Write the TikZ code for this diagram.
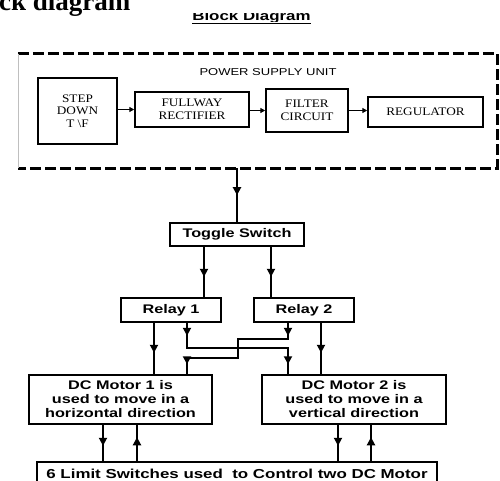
\documentclass[tikz,border=0pt]{standalone}
\usepackage{fontspec}
\usetikzlibrary{arrows.meta,decorations.markings,calc}
\setmainfont{Liberation Serif}
\newfontfamily\sansw{Liberation Sans}[FakeStretch=1.3]
\newfontfamily\serifw{Liberation Serif}[FakeStretch=1.15]
\begin{document}
\begin{tikzpicture}[x=1pt,y=-1pt,
  box/.style={draw, line width=1.5pt, inner sep=0pt, align=center},
  wbox/.style={box, font=\sansw\bfseries\fontsize{12.5}{14}\selectfont},
  tbox/.style={box, font=\serifw\fontsize{11.5}{12.5}\selectfont},
  conn/.style={line width=2pt},
  pconn/.style={line width=1.3pt, -{Triangle[width=5pt,length=5pt]}},
  tipmark/.style={postaction={decorate,decoration={markings,mark=at position #1 with {\arrow{Triangle[width=8pt,length=8pt]}}}}},
  dashbox/.style={line width=3pt, dash pattern=on 11pt off 4pt}
]
\useasboundingbox (0,0) rectangle (500,481);
\clip (0,0) rectangle (500,481);

% titles
\node[font=\bfseries\fontsize{27}{30}\selectfont, anchor=base west, inner sep=0pt] (ttl) at (-1,10.5) {ck diagram};
\begin{scope}
  \clip (180,14) rectangle (330,21.8);
  \node[font=\sansw\bfseries\fontsize{13}{15}\selectfont, anchor=base, inner sep=0pt] (bd) at (251.5,20.8) {Block Diagram};
\end{scope}
\draw[line width=1.3pt] ([yshift=-2.4pt]bd.base west) -- ([yshift=-2.4pt]bd.base east);

% power supply unit
\node[inner sep=0pt, minimum width=479pt, minimum height=114pt] (psu) at (257.5,111) {};
\draw[dashbox] (psu.north west) -- (psu.north east) -- (psu.south east) -- (psu.south west);
\draw[line width=0.4pt, black!25] (psu.south west) -- (psu.north west);
\node[font=\sansw\fontsize{10}{12}\selectfont, inner sep=0pt] (psul) at (268,72) {POWER SUPPLY UNIT};

\node[tbox, minimum width=79pt, minimum height=66pt] (step) at (77.5,111) {STEP\\DOWN\\T \textbackslash F};
\node[tbox, minimum width=114pt, minimum height=35pt] (rect) at (192,109.5) {FULLWAY\\RECTIFIER};
\node[tbox, minimum width=82pt, minimum height=43pt] (filt) at (307,110.5) {FILTER\\CIRCUIT};
\node[tbox, minimum width=115pt, minimum height=30pt] (reg) at (425.5,112) {REGULATOR};

\draw[pconn] (step.east |- rect.west) -- (rect.west);
\draw[pconn] (rect.east |- filt.west) -- (filt.west);
\draw[pconn] (filt.east) -- (filt.east -| reg.west);

% lower blocks
\node[wbox, minimum width=134pt, minimum height=23pt] (tog) at (237,234.5) {Toggle Switch};
\node[wbox, minimum width=100pt, minimum height=24pt] (r1) at (171,310) {Relay 1};
\node[wbox, minimum width=100pt, minimum height=24pt] (r2) at (304,310) {Relay 2};
\node[wbox, minimum width=183pt, minimum height=49pt] (m1) at (120.5,399.5) {DC Motor 1 is\\used to move in a\\horizontal direction};
\node[wbox, minimum width=184pt, minimum height=49pt] (m2) at (354,399.5) {DC Motor 2 is\\used to move in a\\vertical direction};
\node[box, font=\sansw\bfseries\fontsize{13}{15}\selectfont, minimum width=400pt, minimum height=24pt] (lim) at (237,474) {6 Limit Switches used~~to Control two DC Motor};

% helper coordinates
\coordinate (t1) at (204,0);
\coordinate (t2) at (271,0);
\coordinate (xa) at (154,0);
\coordinate (xb) at (321,0);
\coordinate (ca) at (187,348);
\coordinate (cb) at (288,339.3);
\coordinate (cm) at (238,358.3);
\coordinate (d1) at (103,0);
\coordinate (u1) at (137,0);
\coordinate (d2) at (338,0);
\coordinate (u2) at (371,0);

% connectors
\draw[conn, tipmark=27pt] (tog.north |- psu.south) -- (tog.north);
\draw[conn, tipmark=30pt] (tog.south -| t1) -- (r1.north -| t1);
\draw[conn, tipmark=30pt] (tog.south -| t2) -- (r2.north -| t2);
\draw[conn, tipmark=30pt] (r1.south -| xa) -- (m1.north -| xa);
\draw[conn, tipmark=30pt] (r2.south -| xb) -- (m2.north -| xb);

\draw[conn, tipmark=13pt, tipmark=-10pt] (r1.south -| ca) -- (ca) -- (ca -| cb) -- (m2.north -| cb);
\draw[conn, tipmark=13pt, tipmark=-10pt] (r2.south -| cb) -- (cb) -- (cb -| cm) -- (cm) -- (cm -| ca) -- (m1.north -| ca);

\draw[conn, tipmark=21pt] (m1.south -| d1) -- (lim.north -| d1);
\draw[conn, tipmark=24pt] (lim.north -| u1) -- (m1.south -| u1);
\draw[conn, tipmark=21pt] (m2.south -| d2) -- (lim.north -| d2);
\draw[conn, tipmark=24pt] (lim.north -| u2) -- (m2.south -| u2);
\end{tikzpicture}
\end{document}
